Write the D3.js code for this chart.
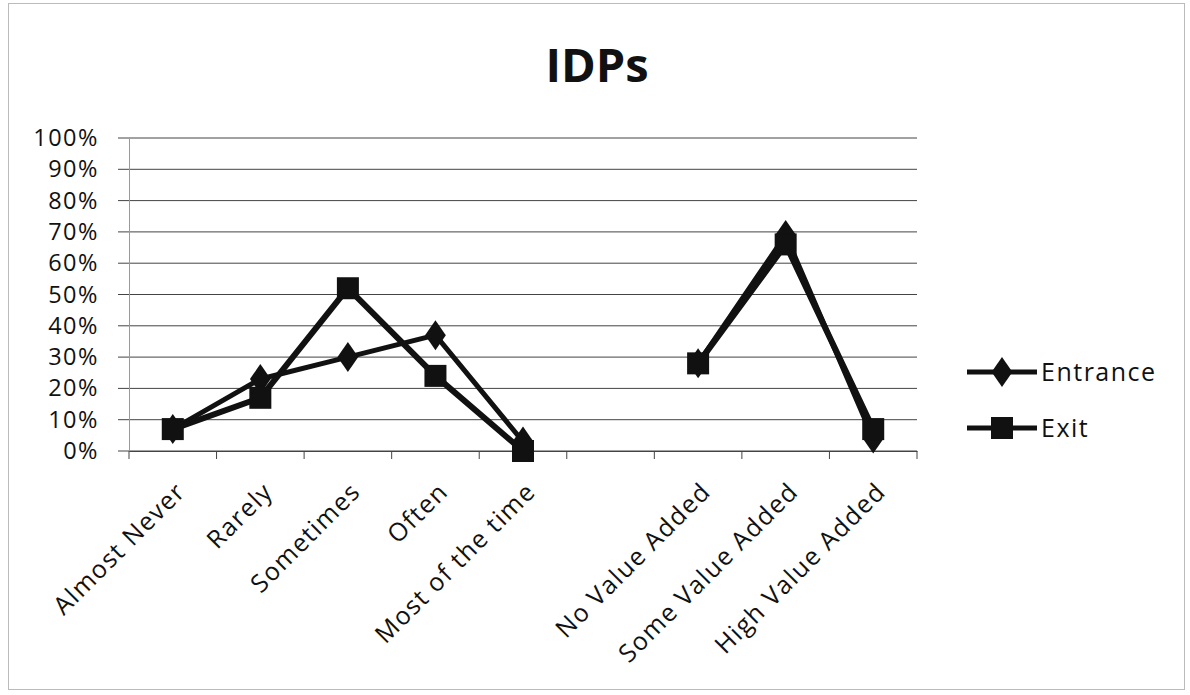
<!DOCTYPE html>
<html><head><meta charset="utf-8">
<script src="https://cdn.jsdelivr.net/npm/d3@7"></script>
<style>body{margin:0;background:#fff}svg{display:block}</style>
</head><body>
<svg id="c" width="1190" height="695"></svg>
<script>
const categories = ["Almost Never","Rarely","Sometimes","Often","Most of the time","","No Value Added","Some Value Added","High Value Added"];
const entrance = [0.07,0.23,0.30,0.37,0.03,null,0.28,0.69,0.04];
const exit = [0.07,0.17,0.52,0.24,0.00,null,0.28,0.66,0.07];
const yTicks = [0,0.1,0.2,0.3,0.4,0.5,0.6,0.7,0.8,0.9,1.0];
const seriesNames = ["Entrance","Exit"];

const svg = d3.select("#c");
const font = "'Open Sans', Lato, sans-serif";
const pLeft = 129, pRight = 917, pTop = 138, pBottom = 451;

svg.append("rect").attr("x",8.5).attr("y",3.5).attr("width",1176).attr("height",686)
  .attr("fill","none").attr("stroke","#bbb").attr("stroke-width",1);

const x = d3.scaleBand().domain(d3.range(categories.length)).range([pLeft,pRight]);
const y = d3.scaleLinear().domain([0,1]).range([pBottom,pTop]);

// gridlines
svg.append("g").selectAll("line").data(yTicks).join("line")
  .attr("x1",pLeft-11).attr("x2",pRight).attr("y1",d=>y(d)).attr("y2",d=>y(d))
  .attr("stroke","#444").attr("stroke-width",1);

// y axis
const ya = svg.append("g").attr("transform",`translate(${pLeft},0)`)
  .call(d3.axisLeft(y).tickValues(yTicks).tickFormat(d3.format(".0%")).tickSize(0).tickPadding(30));
ya.select(".domain").attr("stroke","#999");
ya.selectAll("text").attr("font-family",font).attr("font-size",23.5).attr("letter-spacing","1.5px").attr("fill","#111");

// x axis
const xa = svg.append("g").attr("transform",`translate(0,${pBottom})`)
  .call(d3.axisBottom(x).tickFormat(i=>categories[i]).tickSize(0));
xa.select(".domain").attr("stroke","#444");
xa.selectAll("text").attr("font-family",font).attr("font-size",25).attr("letter-spacing","1.4px").attr("fill","#111")
  .attr("text-anchor","end").attr("dy",0).attr("transform","translate(12,40) rotate(-45)");
// boundary ticks
svg.append("g").selectAll("line").data(d3.range(categories.length+1)).join("line")
  .attr("x1",i=>pLeft+i*x.step()).attr("x2",i=>pLeft+i*x.step())
  .attr("y1",pBottom).attr("y2",pBottom+8).attr("stroke","#444");

const line = d3.line().defined(d=>d!=null).x((d,i)=>x(i)+x.bandwidth()/2).y(d=>y(d));
const pts = arr => arr.map((v,i)=>({v,i})).filter(d=>d.v!=null);

svg.append("path").datum(entrance).attr("d",line).attr("fill","none").attr("stroke","#111").attr("stroke-width",5).attr("stroke-linejoin","round");
svg.append("path").datum(exit).attr("d",line).attr("fill","none").attr("stroke","#111").attr("stroke-width",6).attr("stroke-linejoin","round");

const diamond = d3.symbol().type(d3.symbolDiamond).size(260);
svg.append("g").selectAll("path").data(pts(entrance)).join("path")
  .attr("d",diamond).attr("transform",d=>`translate(${x(d.i)+x.bandwidth()/2},${y(d.v)}) scale(1.2,1)`)
  .attr("fill","#111");
svg.append("g").selectAll("rect").data(pts(exit)).join("rect")
  .attr("x",d=>x(d.i)+x.bandwidth()/2-11).attr("y",d=>y(d.v)-11).attr("width",22).attr("height",22)
  .attr("fill","#111");

svg.append("text").attr("x",597).attr("y",82).attr("text-anchor","middle")
  .attr("font-family",font).attr("font-weight","bold").attr("font-size",47).attr("fill","#111").text("IDPs");

const lg = svg.append("g");
seriesNames.forEach((n,k)=>{
  const ly = 372 + k*56;
  lg.append("line").attr("x1",967).attr("x2",1037).attr("y1",ly).attr("y2",ly).attr("stroke","#111").attr("stroke-width",5);
  if(k===0) lg.append("path").attr("d",diamond).attr("transform",`translate(1002,${ly}) scale(1.2,1)`).attr("fill","#111");
  else lg.append("rect").attr("x",991).attr("y",ly-11).attr("width",22).attr("height",22).attr("fill","#111");
  lg.append("text").attr("x",1041).attr("y",ly+9).attr("font-family",font).attr("font-size",25).attr("letter-spacing","1.5px").attr("fill","#111").text(n);
});
</script>
</body></html>
